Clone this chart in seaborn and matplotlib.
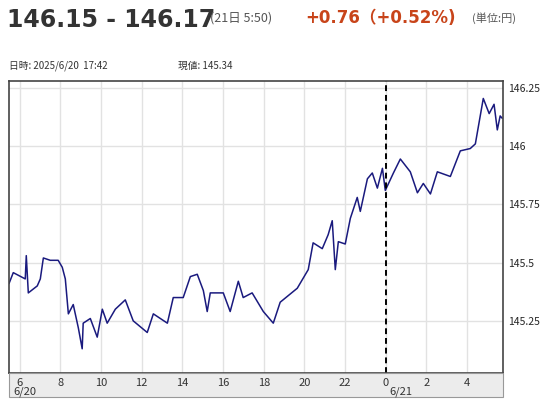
import matplotlib
matplotlib.use("Agg")
import matplotlib.pyplot as plt
import seaborn as sns
import pandas as pd
from matplotlib.patches import Rectangle

sns.set_style("white")
plt.rcParams['font.family'] = ['Noto Sans CJK JP', 'DejaVu Sans']

hours = [5.47, 5.68, 6.27, 6.32, 6.42, 6.86, 7.01, 7.16, 7.50, 7.89, 8.09, 8.24, 8.39, 8.63, 8.88,
         9.07, 9.12, 9.47, 9.81, 10.06, 10.30, 10.70, 11.19, 11.58, 12.27, 12.57, 13.26, 13.55, 14.04,
         14.39, 14.73, 15.03, 15.22, 15.37, 16.01, 16.35, 16.75, 16.99, 17.43, 17.98, 18.47, 18.81,
         19.65, 20.19, 20.43, 20.88, 21.17, 21.37, 21.52, 21.67, 22.01, 22.26, 22.60, 22.75, 23.10,
         23.34, 23.59, 23.84, 23.98, 24.38, 24.72, 25.21, 25.56, 25.85, 26.20, 26.54, 27.18, 27.67,
         28.16, 28.41, 28.80, 29.09, 29.33, 29.49, 29.63, 29.73]
prices = [145.41, 145.457, 145.43, 145.53, 145.37, 145.40, 145.43, 145.52, 145.51, 145.51, 145.48,
          145.43, 145.28, 145.32, 145.22, 145.13, 145.24, 145.26, 145.18, 145.30, 145.24, 145.30,
          145.34, 145.25, 145.20, 145.28, 145.24, 145.35, 145.35, 145.44, 145.45, 145.38, 145.29,
          145.37, 145.37, 145.29, 145.42, 145.35, 145.37, 145.29, 145.24, 145.33, 145.39, 145.47,
          145.585, 145.56, 145.62, 145.68, 145.47, 145.59, 145.58, 145.69, 145.78, 145.72, 145.86,
          145.885, 145.82, 145.905, 145.81, 145.885, 145.945, 145.89, 145.80, 145.84, 145.795,
          145.89, 145.87, 145.98, 145.99, 146.01, 146.205, 146.14, 146.18, 146.07, 146.13, 146.12]
xtick_pos = [6, 8, 10, 12, 14, 16, 18, 20, 22, 24, 26, 28]
xtick_labels = ["6", "8", "10", "12", "14", "16", "18", "20", "22", "0", "2", "4"]
ytick_pos = [145.25, 145.5, 145.75, 146.0, 146.25]
ytick_labels = ["145.25", "145.5", "145.75", "146", "146.25"]

df = pd.DataFrame({"h": hours, "p": prices})
fig = plt.figure(figsize=(5.51, 4.0), dpi=100)
W, H = 551, 400
ax = fig.add_axes([9 / W, (H - 373) / H, (503 - 9) / W, (373 - 81) / H])
sns.lineplot(data=df, x="h", y="p", ax=ax, color="#1a1a7e", linewidth=1.1)
ax.set_xlim(5.47, 29.77)
ax.set_ylim(145.026, 146.28)
ax.set_xticks(xtick_pos)
ax.set_xticklabels([])
ax.set_yticks(ytick_pos)
ax.set_yticklabels(ytick_labels, fontsize=7.5)
ax.yaxis.tick_right()
ax.tick_params(length=0, pad=4)
ax.grid(True, color="#e2e2e2", linewidth=1)
ax.set_axisbelow(True)
ax.set_xlabel("")
ax.set_ylabel("")
for s in ax.spines.values():
    s.set_color("#444444")
    s.set_linewidth(1.2)
ax.axvline(24, color="black", linestyle=(0, (3, 2)), linewidth=1.4)

fig.patches.append(Rectangle((9 / W, (H - 397) / H), (503 - 9) / W, 24 / H, transform=fig.transFigure,
                             facecolor="#ececec", edgecolor="#999999", linewidth=0.8))
for p, l in zip(xtick_pos, xtick_labels):
    xf = ax.transData.transform((p, 0))[0] / W
    fig.text(xf, (H - 383) / H, l, ha="center", va="center", fontsize=8, color="#333333")
for p, l in [(6, "6/20"), (24, "6/21")]:
    xf = ax.transData.transform((p, 0))[0] / W
    fig.text(xf + 4 / W if p == 24 else xf - 6 / W, (H - 392) / H, l, ha="left",
             va="center", fontsize=8, color="#333333")

fig.text(7 / W, (H - 20) / H, "146.15 - 146.17", fontsize=17, fontweight="bold", color="#333333",
         va="center", family=["DejaVu Sans"])
fig.text(210 / W, (H - 18) / H, "(21日 5:50)", fontsize=9, color="#555555", va="center")
fig.text(305 / W, (H - 18) / H, "+0.76（+0.52%)", fontsize=12, fontweight="bold", color="#c8441a",
         va="center", family=["DejaVu Sans", "Noto Sans CJK JP"])
fig.text(472 / W, (H - 18) / H, "(単位:円)", fontsize=8, color="#555555", va="center")
fig.text(9 / W, (H - 66) / H, "日時: 2025/6/20  17:42", fontsize=7, color="#333333", va="center")
fig.text(178 / W, (H - 66) / H, "現値: 145.34", fontsize=7, color="#333333", va="center")

fig.savefig("out.png", dpi=100)
